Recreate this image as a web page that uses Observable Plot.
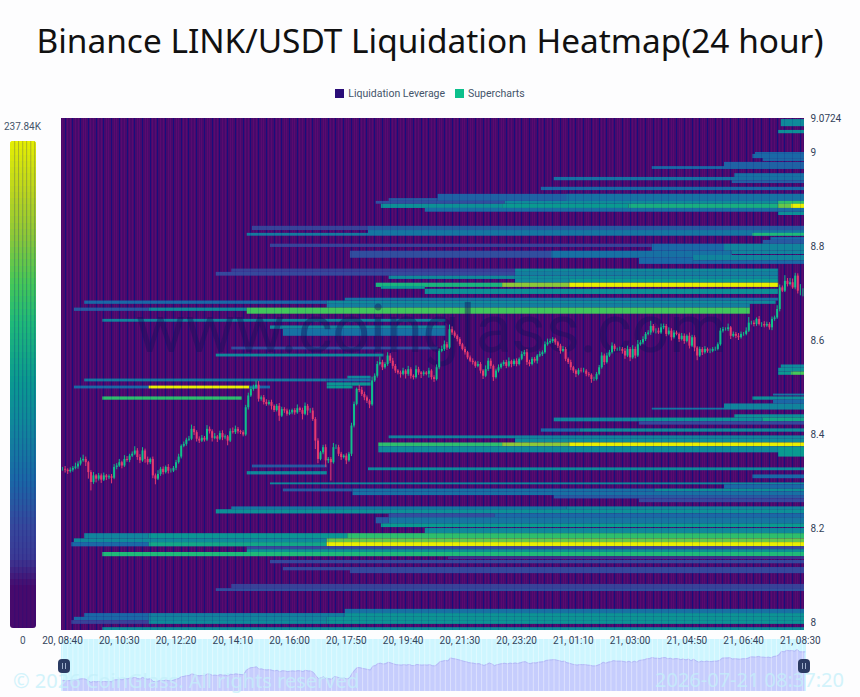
<!DOCTYPE html>
<html>
<head>
<meta charset="utf-8">
<script src="https://cdn.jsdelivr.net/npm/d3@7"></script>
<script src="https://cdn.jsdelivr.net/npm/@observablehq/plot@0.6"></script>
<style>
html,body{margin:0;padding:0;background:#fdfdfe;}
#page{position:relative;width:860px;height:697px;overflow:hidden;font-family:Roboto,sans-serif;}
#title{position:absolute;left:0;top:15px;width:860px;text-align:center;font:400 33.4px/50px "Noto Sans",sans-serif;color:#111;white-space:nowrap;}
#legend{position:absolute;left:0;top:87px;width:860px;text-align:center;font:10.5px/14px Roboto,sans-serif;color:#44546a;}
#legend i{display:inline-block;width:9px;height:9px;margin:0 4px 0 0;vertical-align:-1px;}
#legend span{margin:0 5px;}
#main{position:absolute;left:0;top:110px;z-index:2;}
#bar{position:absolute;left:0;top:110px;z-index:3;}
#bar svg{clip-path:inset(31px 24px 69px 10px round 3px);}
#overview{position:absolute;left:0;top:638px;z-index:1;}
.lab{position:absolute;font:10px Roboto,sans-serif;color:#44546a;z-index:4;}
.wm{position:absolute;font:20px "Noto Sans",sans-serif;color:#c4f0fa;opacity:.75;z-index:4;white-space:nowrap;}
.hd{position:absolute;width:12px;height:14px;background:#2b3b63;border-radius:4px;z-index:5;top:659px;}
.hd b{position:absolute;left:4px;top:4px;width:2px;height:6px;border-left:1px solid #9fb0cc;border-right:1px solid #9fb0cc;}
</style>
</head>
<body>
<div id="page">
  <div id="title">Binance LINK/USDT Liquidation Heatmap(24 hour)</div>
  <div id="legend"><span><i style="background:#2a0d78"></i>Liquidation Leverage</span><span><i style="background:#0cc08c"></i>Supercharts</span></div>
  <div id="overview"></div>
  <div id="main"></div>
  <div id="bar"></div>
  <div class="lab" style="left:4px;top:121px;">237.84K</div>
  <div class="lab" style="left:20px;top:635px;">0</div>
  <div class="wm" style="left:13px;top:667px;">© 2026 CoinGlass. All rights reserved</div>
  <div class="wm" style="left:655px;top:666px;">2026-07-21 08:37:20</div>
  <div class="hd" style="left:58px;"><b></b></div>
  <div class="hd" style="left:798px;"><b></b></div>
</div>
<script>
const chartTitle = "Binance LINK/USDT Liquidation Heatmap(24 hour)";
const maxValueK = 237.84;
const timeLabels = ["20, 08:40","20, 10:30","20, 12:20","20, 14:10","20, 16:00","20, 17:50","20, 19:40","20, 21:30","20, 23:20","21, 01:10","21, 03:00","21, 04:50","21, 06:40","21, 08:30"];
const timeSlots = [0,22,44,66,88,110,132,154,176,198,220,242,264,286];
const priceTicks = [8,8.2,8.4,8.6,8.8,9,9.0724];

// 5-minute closes, in thousandths of a USDT
const closes = [
8326,8324,8321,8324,8328,8331,8337,8344,8347,8340,8319,8298,8312,8305,8312,8303,8312,8308,8310,8307,8330,8333,8340,8333,
8347,8345,8354,8358,8365,8351,8344,8365,8347,8340,8347,8312,8305,8315,8326,8319,8330,8322,8322,8328,8340,8352,8375,8379,
8388,8390,8411,8404,8390,8386,8392,8388,8411,8406,8392,8395,8390,8402,8393,8395,8386,8406,8404,8411,8406,8404,8399,8457,
8482,8496,8499,8505,8475,8478,8468,8464,8468,8460,8451,8460,8439,8453,8450,8443,8446,8451,8446,8455,8451,8443,8460,8450,
8450,8432,8386,8347,8361,8372,8344,8347,8340,8372,8372,8358,8351,8354,8344,8358,8418,8464,8496,8494,8485,8478,8471,8463,
8514,8524,8549,8553,8542,8549,8567,8556,8545,8535,8531,8528,8535,8528,8538,8524,8521,8538,8531,8528,8531,8528,8535,8521,
8517,8542,8577,8581,8591,8584,8623,8616,8609,8602,8591,8581,8574,8563,8556,8553,8545,8549,8535,8524,8538,8556,8545,8521,
8535,8542,8549,8553,8545,8555,8549,8556,8549,8560,8570,8574,8553,8549,8560,8556,8567,8570,8574,8591,8595,8598,8602,8595,
8588,8577,8581,8560,8553,8542,8535,8528,8536,8535,8535,8528,8526,8517,8517,8528,8542,8567,8553,8567,8574,8588,8581,8581,
8581,8577,8567,8581,8563,8581,8567,8591,8595,8602,8613,8616,8630,8620,8620,8616,8627,8630,8613,8620,8606,8616,8613,8602,
8609,8598,8609,8588,8606,8584,8567,8581,8574,8581,8577,8577,8581,8581,8591,8620,8623,8623,8627,8609,8613,8609,8606,8613,
8613,8620,8637,8637,8634,8645,8634,8634,8631,8634,8627,8645,8648,8666,8712,8705,8726,8719,8723,8712,8737,8705,8705,8705];
const wickUp = [
4,6,3,5,4,8,5,6,9,5,3,4,7,3,5,4,6,3,4,5,6,5,7,3,8,6,4,5,9,5,6,7,4,5,3,5,4,8,4,5,3,6,5,4,5,6,3,5,
4,6,9,6,4,5,6,4,8,5,4,7,3,5,6,4,3,6,8,7,4,3,4,5,6,5,6,9,8,4,5,6,4,5,3,4,6,5,4,4,6,3,4,8,3,5,7,4,
5,6,4,5,3,5,6,4,4,9,6,5,4,3,5,4,6,5,3,9,6,5,4,3,8,5,6,12,5,4,7,5,6,4,3,4,6,3,7,4,3,8,5,3,4,3,6,3,
4,6,5,7,8,5,10,6,4,3,4,3,5,3,4,5,3,6,4,3,8,6,5,3,4,6,3,4,5,8,3,4,5,3,6,5,7,5,4,4,3,6,4,6,8,5,4,3,
3,4,6,4,3,5,3,3,4,5,6,3,4,3,5,4,5,7,4,6,5,7,4,3,5,4,6,7,4,8,5,9,5,6,4,5,11,4,5,6,8,5,4,7,5,5,4,3,
6,5,3,7,5,4,3,5,4,6,3,5,4,5,4,6,5,4,8,3,5,4,6,5,4,7,12,4,5,3,6,4,6,5,4,5,4,8,6,4,12,6,9,8,6,5,14,5,4,4];
const wickDown = [
4,6,6,3,4,3,5,4,3,8,14,18,4,8,4,7,3,6,4,12,3,5,3,6,3,4,5,3,3,6,6,3,8,5,4,6,12,3,4,5,3,6,4,3,5,3,4,3,
4,3,3,6,6,5,3,4,3,5,8,3,7,3,6,4,10,3,3,4,5,4,4,3,5,3,4,3,6,4,5,4,3,8,4,3,11,3,5,4,3,4,5,3,4,12,3,10,
5,4,18,9,3,4,14,6,39,3,4,5,6,3,8,3,5,4,3,5,4,6,5,8,3,3,4,3,6,3,4,5,6,5,4,8,3,10,4,6,5,3,5,9,4,3,8,5,
6,3,4,3,4,5,3,5,4,5,4,3,5,4,3,5,4,3,6,7,3,4,6,8,3,4,3,4,5,3,7,4,5,3,3,4,6,5,3,4,6,3,4,3,3,3,4,5,
5,6,3,5,4,6,5,7,3,4,4,5,4,8,4,3,3,3,6,3,3,3,5,4,4,6,7,3,8,3,6,3,3,4,4,3,5,4,6,3,3,4,5,3,7,3,3,6,
3,6,3,6,3,8,10,3,6,3,4,5,3,4,3,3,4,3,4,7,3,5,6,3,4,3,3,4,5,4,3,6,4,3,5,6,4,3,5,3,3,5,3,3,4,6,10,12];

// Liquidation bands: [price low, price high, first slot, last slot, value in K]; later rows paint over earlier ones
const topBands = [
[9040,9047,278,288,107],[9055,9070,279,288,100],[8996,9000,269,288,71],[8987,8996,268,288,71],[8981,8987,272,288,71],
[8964,8970,229,288,71],[8966,8979,257,288,67],[8947,8955,261,288,79],[8940,8947,191,288,79],[8934,8940,260,288,64],
[8919,8926,186,288,71],[8896,8911,146,288,67],[8896,8911,196,288,79],[8896,8902,127,146,60],[8890,8896,122,172,52],
[8890,8896,172,288,100],[8890,8896,278,288,155],[8881,8890,124,171,107],[8881,8890,171,220,119],[8881,8890,220,278,138],[8881,8890,278,283,178],
[8881,8890,283,288,238],[8873,8881,141,288,75],[8866,8873,278,288,107]];
const upperBands = [
[8834,8843,74,119,43],[8834,8843,119,288,60],[8822,8834,119,288,83],[8822,8828,72,119,87],[8822,8828,268,288,148],
[8813,8819,275,288,71],[8805,8813,272,288,60],[8798,8805,81,229,43],[8790,8805,229,257,71],[8790,8805,257,288,95],
[8775,8790,112,190,52],[8775,8790,190,260,79],[8783,8790,260,288,95],[8769,8781,245,288,95],[8762,8769,245,288,71],
[8762,8775,224,245,71],[8745,8752,66,176,40],[8745,8752,176,278,100],[8737,8745,60,176,48],[8737,8745,176,278,90],
[8730,8737,127,278,100],[8722,8730,176,197,100],[8722,8730,197,278,119],[8713,8722,122,171,143],[8713,8722,171,197,190],
[8713,8722,197,278,238],[8709,8715,124,141,119],[8698,8709,141,278,107],[8684,8690,110,278,79],[8677,8684,9,103,71],
[8677,8684,103,277,100],[8669,8677,103,267,90],[8662,8669,5,34,60],[8662,8669,34,72,100],[8656,8669,72,267,165],
[8639,8645,16,149,95],[8624,8631,81,149,100],[8609,8624,86,149,79],[8580,8586,66,146,52],[8565,8571,60,125,100]];
const middleBands = [
[8541,8548,279,288,100],[8533,8541,278,288,107],[8526,8533,278,283,119],[8526,8533,283,288,167],[8518,8524,111,120,100],
[8512,8518,9,103,85],[8512,8518,103,120,75],[8503,8510,103,120,114],[8497,8503,5,34,71],[8497,8503,34,73,238],
[8497,8503,73,81,71],[8497,8503,103,113,119],[8473,8480,16,70,155],[8482,8486,276,288,83],[8473,8480,268,288,107],
[8465,8473,276,288,71],[8452,8465,257,288,95],[8452,8456,229,257,83],[8435,8442,261,288,107],[8427,8435,191,224,95],
[8427,8435,224,272,107],[8427,8435,272,288,131],[8420,8427,224,288,48],[8405,8412,186,201,71],[8405,8412,201,288,100],
[8391,8397,127,288,95],[8382,8391,176,288,100],[8374,8382,123,171,155],[8374,8382,171,197,190],[8374,8382,197,288,238],
[8361,8374,123,288,100],[8352,8372,278,288,119],[8329,8335,74,103,60],[8323,8329,119,288,100],[8314,8321,72,103,100],
[8306,8314,268,288,71],[8293,8297,81,288,100],[8284,8293,257,288,71],[8278,8284,86,113,60],[8278,8284,113,230,79],
[8278,8284,230,288,107],[8270,8278,113,288,79],[8263,8270,191,288,60],[8255,8263,224,288,48]];
const lowerBands = [
[8240,8246,66,196,83],[8240,8246,196,288,95],[8231,8240,60,288,107],[8223,8231,127,168,52],[8223,8231,168,288,71],
[8210,8223,127,288,83],[8210,8223,122,127,60],[8202,8210,124,288,119],[8189,8200,141,288,100],[8178,8189,9,34,95],
[8178,8189,34,111,114],[8178,8189,111,288,155],[8170,8178,5,103,100],[8170,8178,103,288,178],[8161,8170,4,34,71],
[8161,8170,34,103,131],[8161,8170,103,288,238],[8157,8161,72,288,36],[8155,8161,72,288,48],[8149,8155,72,288,107],
[8140,8149,16,288,148],[8134,8140,150,288,30],[8125,8132,81,288,48],[8110,8117,86,112,48],[8104,8117,112,288,48],
[8072,8081,66,288,40],[8066,8072,60,288,52],[8019,8028,110,288,79],[8011,8019,9,34,71],[8011,8019,34,110,90],
[8011,8019,110,288,112],[8004,8011,5,34,71],[8004,8011,34,103,95],[8004,8011,103,288,112],[7996,8004,4,34,43],
[7996,8004,34,103,100],[7996,8004,103,288,112],[7983,7989,16,288,100]];

const xDomain = [-0.4,287.6];
const yDomain = [7.983,9.0724];
const colorScale = {
  type:"linear",
  domain:[0,19,33,48,71,100,119,148,167,190,210,237.84],
  range:["#470a6c","#470a6c","#3b3a94","#36489c","#1a68a6","#0f8a9a","#0a9a90","#1fba78","#45c858","#8cc838","#b8d420","#e8f000"]
};

const bands = [...topBands,...upperBands,...middleBands,...lowerBands].map(([lo,hi,a,b,v])=>({
  y1:lo/1000,y2:hi/1000,x1:a-0.4,x2:Math.min(b-0.4,287.6),v
}));
const candles = closes.map((c,i)=>{
  const o = i? closes[i-1] : c;
  return {i,open:o/1000,close:c/1000,high:(Math.max(o,c)+wickUp[i])/1000,low:(Math.min(o,c)-wickDown[i])/1000,up:c>=o};
});
const up = candles.filter(d=>d.up), down = candles.filter(d=>!d.up);
const slots = d3.range(0,288);
const darkSlots = slots.filter(s=>s%3===1);
const fineSlots = slots.filter(s=>s%3!==1);
const domainRect = [{x1:xDomain[0],x2:xDomain[1],y1:yDomain[0],y2:yDomain[1]}];

const main = Plot.plot({
  width:860,height:587,
  marginLeft:61,marginRight:56,marginTop:8,marginBottom:67,
  style:{background:"transparent",fontFamily:"Roboto,sans-serif",fontSize:"10px",color:"#33425a"},
  x:{domain:xDomain,axis:null},
  y:{domain:yDomain,axis:null},
  color:colorScale,
  marks:[
    Plot.rect(domainRect,{x1:"x1",x2:"x2",y1:"y1",y2:"y2",fill:"#470a6c"}),
    Plot.ruleX(fineSlots,{x:d=>d,stroke:"#5a0a70",strokeWidth:1,shapeRendering:"crispEdges"}),
    Plot.ruleX(darkSlots,{x:d=>d,stroke:"#1a0f7c",strokeWidth:1,shapeRendering:"crispEdges"}),
    Plot.rect(bands,{x1:"x1",x2:"x2",y1:"y1",y2:"y2",fill:"v"}),
    Plot.ruleX(darkSlots,{x:d=>d,stroke:"#150f80",strokeWidth:1,strokeOpacity:0.16,shapeRendering:"crispEdges"}),
    Plot.text(["www.coinglass.com"],{x:143,y:8.62,text:d=>d,fontSize:66,fill:"#12105e",fillOpacity:0.42,fontFamily:"Roboto,sans-serif",textAnchor:"middle"}),
    Plot.ruleX(up,{x:"i",y1:"low",y2:"high",stroke:"#0fb98a",strokeWidth:1}),
    Plot.ruleX(down,{x:"i",y1:"low",y2:"high",stroke:"#e23a72",strokeWidth:1}),
    Plot.ruleX(up,{x:"i",y1:"open",y2:"close",stroke:"#0fc08c",strokeWidth:2}),
    Plot.ruleX(down,{x:"i",y1:"open",y2:"close",stroke:"#e83a70",strokeWidth:2}),
    Plot.axisX({ticks:timeSlots,tickSize:0,tickPadding:6,tickFormat:d=>timeLabels[timeSlots.indexOf(d)],fontSize:10,label:null}),
    Plot.axisY({anchor:"right",ticks:priceTicks,tickSize:0,tickPadding:6,tickFormat:d=>String(d),fontSize:10,label:null})
  ]
});
document.getElementById("main").append(main);

const levels = d3.range(0,238,3);
const barPlot = Plot.plot({
  width:60,height:587,marginLeft:10,marginRight:24,marginTop:31,marginBottom:69,
  style:{background:"transparent"},
  x:{domain:[0,1],axis:null},
  y:{domain:[0,maxValueK],axis:null},
  color:colorScale,
  marks:[
    Plot.rect(levels,{x1:0,x2:1,y1:d=>d,y2:d=>Math.min(d+4,maxValueK),fill:d=>d,shapeRendering:"crispEdges"}),
    Plot.ruleX([0.16,0.31,0.47,0.62,0.78,0.93],{stroke:"#150f80",strokeOpacity:0.25,strokeWidth:1})
  ]
});
document.getElementById("bar").append(barPlot);

const overview = Plot.plot({
  width:860,height:53,marginLeft:61,marginRight:54,marginTop:1,marginBottom:0,
  style:{background:"transparent"},
  x:{domain:xDomain,axis:null},
  y:{domain:[8.178,8.87],axis:null},
  marks:[
    Plot.rect(domainRect,{x1:"x1",x2:"x2",y1:8.178,y2:8.87,fill:"#cef6ff"}),
    Plot.areaY(candles,{x:"i",y1:8.178,y2:"close",fill:"#c6cdfd"}),
    Plot.lineY(candles,{x:"i",y:"close",stroke:"#b3bbf7",strokeWidth:1}),
    Plot.ruleX(slots.filter(s=>s%2===0),{x:d=>d,stroke:"#fff",strokeOpacity:0.4,strokeWidth:1})
  ]
});
document.getElementById("overview").append(overview);
</script>
</body>
</html>
